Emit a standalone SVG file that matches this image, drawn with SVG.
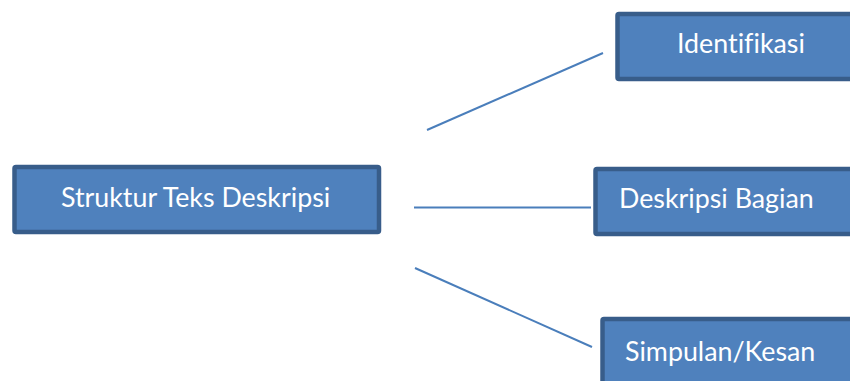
<svg xmlns="http://www.w3.org/2000/svg" width="850" height="381" viewBox="0 0 850 381">
<style>
.box{fill:#4F81BD;stroke:#385D8A;stroke-width:4.5}
.lbl{fill:#FFFFFF;font-family:Lato,"Liberation Sans",sans-serif;font-size:26.8px;font-variant-ligatures:none}
.con{stroke:#4A7EBB;stroke-width:2;fill:none}
</style>
<rect width="850" height="381" fill="#FFFFFF"/>
<g id="connectors">
<line class="con" x1="427" y1="130" x2="603" y2="53"/>
<line class="con" x1="414" y1="207.5" x2="591" y2="207.5"/>
<line class="con" x1="415" y1="268" x2="592" y2="347"/>
</g>
<g id="node-main">
<rect class="box" x="14.5" y="167" width="364.5" height="65" rx="1.5"/>
<text class="lbl" x="61" y="207">Struktur Teks Deskripsi</text>
</g>
<g id="node-identifikasi">
<rect class="box" x="617.5" y="14" width="260" height="65" rx="1.5"/>
<text class="lbl" x="677" y="53">Identifikasi</text>
</g>
<g id="node-deskripsi-bagian">
<rect class="box" x="595.5" y="169" width="280" height="65" rx="1.5"/>
<text class="lbl" x="619" y="208">Deskripsi Bagian</text>
</g>
<g id="node-simpulan">
<rect class="box" x="602.5" y="319" width="280" height="80" rx="1.5"/>
<text class="lbl" x="625" y="361">Simpulan/Kesan</text>
</g>
</svg>
